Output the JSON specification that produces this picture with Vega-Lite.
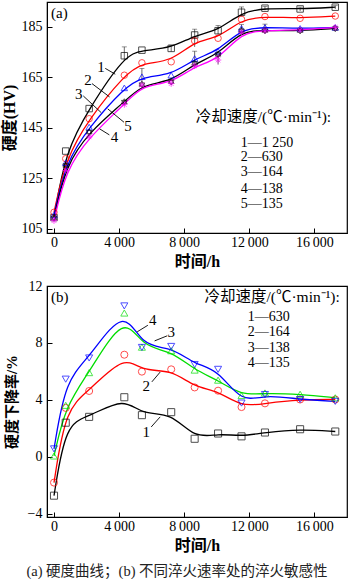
{
  "$schema": "https://vega.github.io/schema/vega-lite/v6.json",
  "padding": {"left": 0, "top": 1, "right": 0, "bottom": 0},
  "autosize": {"type": "pad"},
  "spacing": 53,
  "bounds": "flush",
  "config": {
    "view": {"stroke": "#000", "strokeWidth": 1.2},
    "font": "Liberation Serif",
    "axis": {
      "domainColor": "#000", "tickColor": "#000", "tickSize": -5, "tickWidth": 1,
      "labelFont": "Liberation Serif", "labelFontSize": 14, "labelColor": "#000",
      "titleFont": "Liberation Serif, Noto Sans CJK SC", "titleFontSize": 16, "titleFontWeight": "bold", "titleColor": "#000",
      "grid": false
    }
  },
  "title": {"text": "(a)  硬度曲线；(b)  不同淬火速率处的淬火敏感性", "orient": "bottom", "anchor": "middle", "font": "Liberation Serif, Noto Sans CJK SC", "fontSize": 14.5, "fontWeight": "normal", "color": "#222", "offset": 11, "dx": 3},
  "datasets": {
    "a": [
      {"s":"1","t":0,"v":109.5},{"s":"1","t":720,"v":135.8},{"s":"1","t":2160,"v":152.6},{"s":"1","t":4320,"v":173.5},{"s":"1","t":5400,"v":175.7},{"s":"1","t":7200,"v":176.4},{"s":"1","t":8640,"v":181.7},{"s":"1","t":10080,"v":183.4},{"s":"1","t":11520,"v":190.7},{"s":"1","t":12960,"v":192.3},{"s":"1","t":15120,"v":192.0},{"s":"1","t":17280,"v":192.7},
      {"s":"2","t":0,"v":111.6},{"s":"2","t":720,"v":132.8},{"s":"2","t":2160,"v":148.6},{"s":"2","t":4320,"v":165.8},{"s":"2","t":5400,"v":170.7},{"s":"2","t":7200,"v":171.1},{"s":"2","t":8640,"v":179.4},{"s":"2","t":10080,"v":180.4},{"s":"2","t":11520,"v":187.9},{"s":"2","t":12960,"v":189.0},{"s":"2","t":15120,"v":188.3},{"s":"2","t":17280,"v":189.2},
      {"s":"3","t":0,"v":110.5},{"s":"3","t":720,"v":131.2},{"s":"3","t":2160,"v":145.3},{"s":"3","t":4320,"v":160.8},{"s":"3","t":5400,"v":165.2},{"s":"3","t":7200,"v":165.8},{"s":"3","t":8640,"v":172.4},{"s":"3","t":10080,"v":175.3},{"s":"3","t":11520,"v":184.3},{"s":"3","t":12960,"v":184.7},{"s":"3","t":15120,"v":184.3},{"s":"3","t":17280,"v":184.7},
      {"s":"4","t":0,"v":109.4},{"s":"4","t":720,"v":130.1},{"s":"4","t":2160,"v":143.3},{"s":"4","t":4320,"v":155.2},{"s":"4","t":5400,"v":162.1},{"s":"4","t":7200,"v":163.2},{"s":"4","t":8640,"v":170.5},{"s":"4","t":10080,"v":174.0},{"s":"4","t":11520,"v":183.4},{"s":"4","t":12960,"v":183.4},{"s":"4","t":15120,"v":183.4},{"s":"4","t":17280,"v":184.3},
      {"s":"5","t":0,"v":108.3},{"s":"5","t":720,"v":128.1},{"s":"5","t":2160,"v":141.4},{"s":"5","t":4320,"v":154.2},{"s":"5","t":5400,"v":161.9},{"s":"5","t":7200,"v":162.5},{"s":"5","t":8640,"v":169.5},{"s":"5","t":10080,"v":171.8},{"s":"5","t":11520,"v":182.8},{"s":"5","t":12960,"v":183.4},{"s":"5","t":15120,"v":183.7},{"s":"5","t":17280,"v":184.7}
    ],
    "erra": [
      {"t":4320,"lo":171.5,"hi":177.0},{"t":7200,"lo":175.2,"hi":177.7},{"t":8640,"lo":180.0,"hi":184.0},{"t":10080,"lo":182.0,"hi":185.5},{"t":11520,"lo":189.0,"hi":192.8},{"t":12960,"lo":191.5,"hi":193.0},{"t":15120,"lo":191.2,"hi":192.7},{"t":17280,"lo":192.0,"hi":193.3},
      {"t":8640,"lo":177.0,"hi":181.0},{"t":5400,"lo":163.0,"hi":168.5},{"t":8640,"lo":170.0,"hi":175.3},{"t":11520,"lo":183.0,"hi":185.8},{"t":12960,"lo":183.5,"hi":186.0},{"t":10080,"lo":170.0,"hi":174.0}
    ],
    "lbla": [
      {"t":2883,"v":169.1,"label":"1"},{"t":2086,"v":163.8,"label":"2"},{"t":1515,"v":158.2,"label":"3"},{"t":3722,"v":141.4,"label":"4"},{"t":4540,"v":145.6,"label":"5"}
    ],
    "rulea": [
      {"t":3149,"v":168.5,"t2":3763,"v2":166.2},
      {"t":2331,"v":162.5,"t2":3415,"v2":157.2},
      {"t":1800,"v":157.6,"t2":2900,"v2":151.0},
      {"t":3400,"v":142.2,"t2":2800,"v2":144.6},
      {"t":4300,"v":147.2,"t2":3300,"v2":152.5}
    ],
    "lega": [
      {"t":11472,"v":139.0,"label":"1—1 250"},{"t":11472,"v":133.4,"label":"2—630"},{"t":11472,"v":127.35,"label":"3—164"},{"t":11472,"v":120.9,"label":"4—138"},{"t":11472,"v":114.9,"label":"5—135"}
    ],
    "b": [
      {"s":"1","t":0,"v":-2.74},{"s":"1","t":720,"v":2.39},{"s":"1","t":2160,"v":2.80},{"s":"1","t":4320,"v":4.18},{"s":"1","t":5400,"v":2.92},{"s":"1","t":7200,"v":3.13},{"s":"1","t":8640,"v":1.26},{"s":"1","t":10080,"v":1.63},{"s":"1","t":11520,"v":1.43},{"s":"1","t":12960,"v":1.70},{"s":"1","t":15120,"v":1.93},{"s":"1","t":17280,"v":1.77},
      {"s":"2","t":0,"v":-1.82},{"s":"2","t":720,"v":3.43},{"s":"2","t":2160,"v":4.62},{"s":"2","t":4320,"v":7.17},{"s":"2","t":5400,"v":5.98},{"s":"2","t":7200,"v":6.14},{"s":"2","t":8640,"v":4.87},{"s":"2","t":10080,"v":4.64},{"s":"2","t":11520,"v":3.49},{"s":"2","t":12960,"v":3.75},{"s":"2","t":15120,"v":4.02},{"s":"2","t":17280,"v":4.02},
      {"s":"3","t":0,"v":0.05},{"s":"3","t":720,"v":3.61},{"s":"3","t":2160,"v":5.91},{"s":"3","t":4320,"v":10.1},{"s":"3","t":5400,"v":7.7},{"s":"3","t":7200,"v":7.45},{"s":"3","t":8640,"v":6.09},{"s":"3","t":10080,"v":5.38},{"s":"3","t":11520,"v":4.3},{"s":"3","t":12960,"v":4.48},{"s":"3","t":15120,"v":4.39},{"s":"3","t":17280,"v":4.14},
      {"s":"4","t":0,"v":0.55},{"s":"4","t":720,"v":5.45},{"s":"4","t":2160,"v":6.94},{"s":"4","t":4320,"v":10.6},{"s":"4","t":5400,"v":7.68},{"s":"4","t":7200,"v":7.75},{"s":"4","t":8640,"v":6.48},{"s":"4","t":10080,"v":6.14},{"s":"4","t":11520,"v":3.77},{"s":"4","t":12960,"v":4.37},{"s":"4","t":15120,"v":4.02},{"s":"4","t":17280,"v":3.89}
    ],
    "lblb": [
      {"t":6074,"v":9.59,"label":"4"},{"t":7198,"v":8.78,"label":"3"},{"t":5665,"v":4.94,"label":"2"},{"t":5665,"v":1.77,"label":"1"}
    ],
    "ruleb": [
      {"t":5767,"v":9.24,"t2":5112,"v2":8.78},
      {"t":6957,"v":8.5,"t2":6180,"v2":8.14},
      {"t":6012,"v":5.26,"t2":6523,"v2":5.95},
      {"t":5972,"v":2.09,"t2":6523,"v2":2.8}
    ],
    "legb": [
      {"t":11900,"v":9.82,"label":"1—630"},{"t":11900,"v":8.74,"label":"2—164"},{"t":11900,"v":7.66,"label":"3—138"},{"t":11900,"v":6.57,"label":"4—135"}
    ]
  },
  "resolve": {"scale": {"color": "independent", "shape": "independent", "x": "independent", "y": "independent"}},
  "vconcat": [
    {
      "width": 300, "height": 231,
      "encoding": {
        "x": {"field": "t", "type": "quantitative", "scale": {"domain": [-430, 18000], "nice": false, "zero": false},
              "axis": {"values": [0, 4000, 8000, 12000, 16000], "labelExpr": "datum.value == 0 ? '0' : format(floor(datum.value/1000),'d') + '\u2009000'", "title": "时间/h", "labelPadding": 7, "titlePadding": 4}},
        "y": {"field": "v", "type": "quantitative", "scale": {"domain": [103.4, 194.75], "nice": false, "zero": false},
              "axis": {"values": [105, 125, 145, 165, 185], "title": "硬度(HV)", "labelPadding": 10, "titlePadding": 4}}
      },
      "layer": [
        {"data": {"name": "erra"}, "mark": {"type": "rule", "color": "#444", "strokeWidth": 0.8},
         "encoding": {"y": {"field": "lo", "type": "quantitative"}, "y2": {"field": "hi"}}},
        {"data": {"name": "erra"}, "mark": {"type": "tick", "orient": "horizontal", "color": "#444", "size": 5, "thickness": 0.8},
         "encoding": {"y": {"field": "hi", "type": "quantitative"}}},
        {"data": {"name": "a"}, "mark": {"type": "line", "interpolate": "basis", "strokeWidth": 1.3},
         "encoding": {"color": {"field": "s", "type": "nominal", "scale": {"domain": ["1","2","3","4","5"], "range": ["#000000","#ff0000","#0000ff","#000000","#ff00ff"]}, "legend": null}}},
        {"data": {"name": "a"}, "mark": {"type": "point", "filled": false, "strokeWidth": 1, "size": 42},
         "encoding": {
           "color": {"field": "s", "type": "nominal", "scale": {"domain": ["1","2","3","4","5"], "range": ["#333333","#ff2020","#2020ff","#222222","#ff20ff"]}, "legend": null},
           "shape": {"field": "s", "type": "nominal", "scale": {"domain": ["1","2","3","4","5"], "range": ["square","circle","triangle-up","M0,-1L0.866,0.5L-0.866,0.5Z M0,1L0.866,-0.5L-0.866,-0.5Z","M-1,0L1,0M0,-1L0,1M-0.7,-0.7L0.7,0.7M-0.7,0.7L0.7,-0.7"]}, "legend": null}
         }},
        {"data": {"name": "rulea"}, "mark": {"type": "rule", "color": "#000", "strokeWidth": 0.9},
         "encoding": {"x2": {"field": "t2"}, "y2": {"field": "v2"}}},
        {"data": {"name": "lbla"}, "mark": {"type": "text", "font": "Liberation Serif", "fontSize": 15, "color": "#000", "baseline": "middle", "align": "center"},
         "encoding": {"text": {"field": "label"}}},
        {"data": {"name": "lega"}, "mark": {"type": "text", "font": "Liberation Serif", "fontSize": 14, "color": "#000", "baseline": "middle", "align": "left"},
         "encoding": {"text": {"field": "label"}}},
        {"data": {"values": [{"t": 8712, "v": 149.3, "label": "冷却速度/(℃·min⁻¹):"}]}, "mark": {"type": "text", "font": "Liberation Serif, Noto Sans CJK SC", "fontSize": 15.5, "color": "#000", "baseline": "middle", "align": "left"},
         "encoding": {"text": {"field": "label"}}},
        {"data": {"values": [{"t": -184, "v": 190.3, "label": "(a)"}]}, "mark": {"type": "text", "font": "Liberation Serif", "fontSize": 15, "color": "#000", "baseline": "middle", "align": "left"},
         "encoding": {"text": {"field": "label"}}}
      ]
    },
    {
      "width": 300, "height": 231,
      "encoding": {
        "x": {"field": "t", "type": "quantitative", "scale": {"domain": [-430, 18000], "nice": false, "zero": false},
              "axis": {"values": [0, 4000, 8000, 12000, 16000], "labelExpr": "datum.value == 0 ? '0' : format(floor(datum.value/1000),'d') + '\u2009000'", "title": "时间/h", "labelPadding": 7, "titlePadding": 4}},
        "y": {"field": "v", "type": "quantitative", "scale": {"domain": [-4.24, 12.0], "nice": false, "zero": false},
              "axis": {"values": [-4, 0, 4, 8, 12], "title": "硬度下降率/%", "titleFontSize": 15, "labelPadding": 10, "titlePadding": 8}}
      },
      "layer": [
        {"data": {"name": "b"}, "mark": {"type": "line", "interpolate": "basis", "strokeWidth": 1.3},
         "encoding": {"color": {"field": "s", "type": "nominal", "scale": {"domain": ["1","2","3","4"], "range": ["#000000","#ff0000","#00dd00","#0000ff"]}, "legend": null}}},
        {"data": {"name": "b"}, "mark": {"type": "point", "filled": false, "strokeWidth": 1, "size": 50},
         "encoding": {
           "color": {"field": "s", "type": "nominal", "scale": {"domain": ["1","2","3","4"], "range": ["#333333","#ff2020","#20dd20","#2020ff"]}, "legend": null},
           "shape": {"field": "s", "type": "nominal", "scale": {"domain": ["1","2","3","4"], "range": ["square","circle","triangle-up","triangle-down"]}, "legend": null}
         }},
        {"data": {"name": "ruleb"}, "mark": {"type": "rule", "color": "#000", "strokeWidth": 0.9},
         "encoding": {"x2": {"field": "t2"}, "y2": {"field": "v2"}}},
        {"data": {"name": "lblb"}, "mark": {"type": "text", "font": "Liberation Serif", "fontSize": 15, "color": "#000", "baseline": "middle", "align": "center"},
         "encoding": {"text": {"field": "label"}}},
        {"data": {"name": "legb"}, "mark": {"type": "text", "font": "Liberation Serif", "fontSize": 14, "color": "#000", "baseline": "middle", "align": "left"},
         "encoding": {"text": {"field": "label"}}},
        {"data": {"values": [{"t": 9243, "v": 11.2, "label": "冷却速度/(℃·min⁻¹):"}]}, "mark": {"type": "text", "font": "Liberation Serif, Noto Sans CJK SC", "fontSize": 15.5, "color": "#000", "baseline": "middle", "align": "left"},
         "encoding": {"text": {"field": "label"}}},
        {"data": {"values": [{"t": -184, "v": 11.2, "label": "(b)"}]}, "mark": {"type": "text", "font": "Liberation Serif", "fontSize": 15, "color": "#000", "baseline": "middle", "align": "left"},
         "encoding": {"text": {"field": "label"}}}
      ]
    }
  ]
}
